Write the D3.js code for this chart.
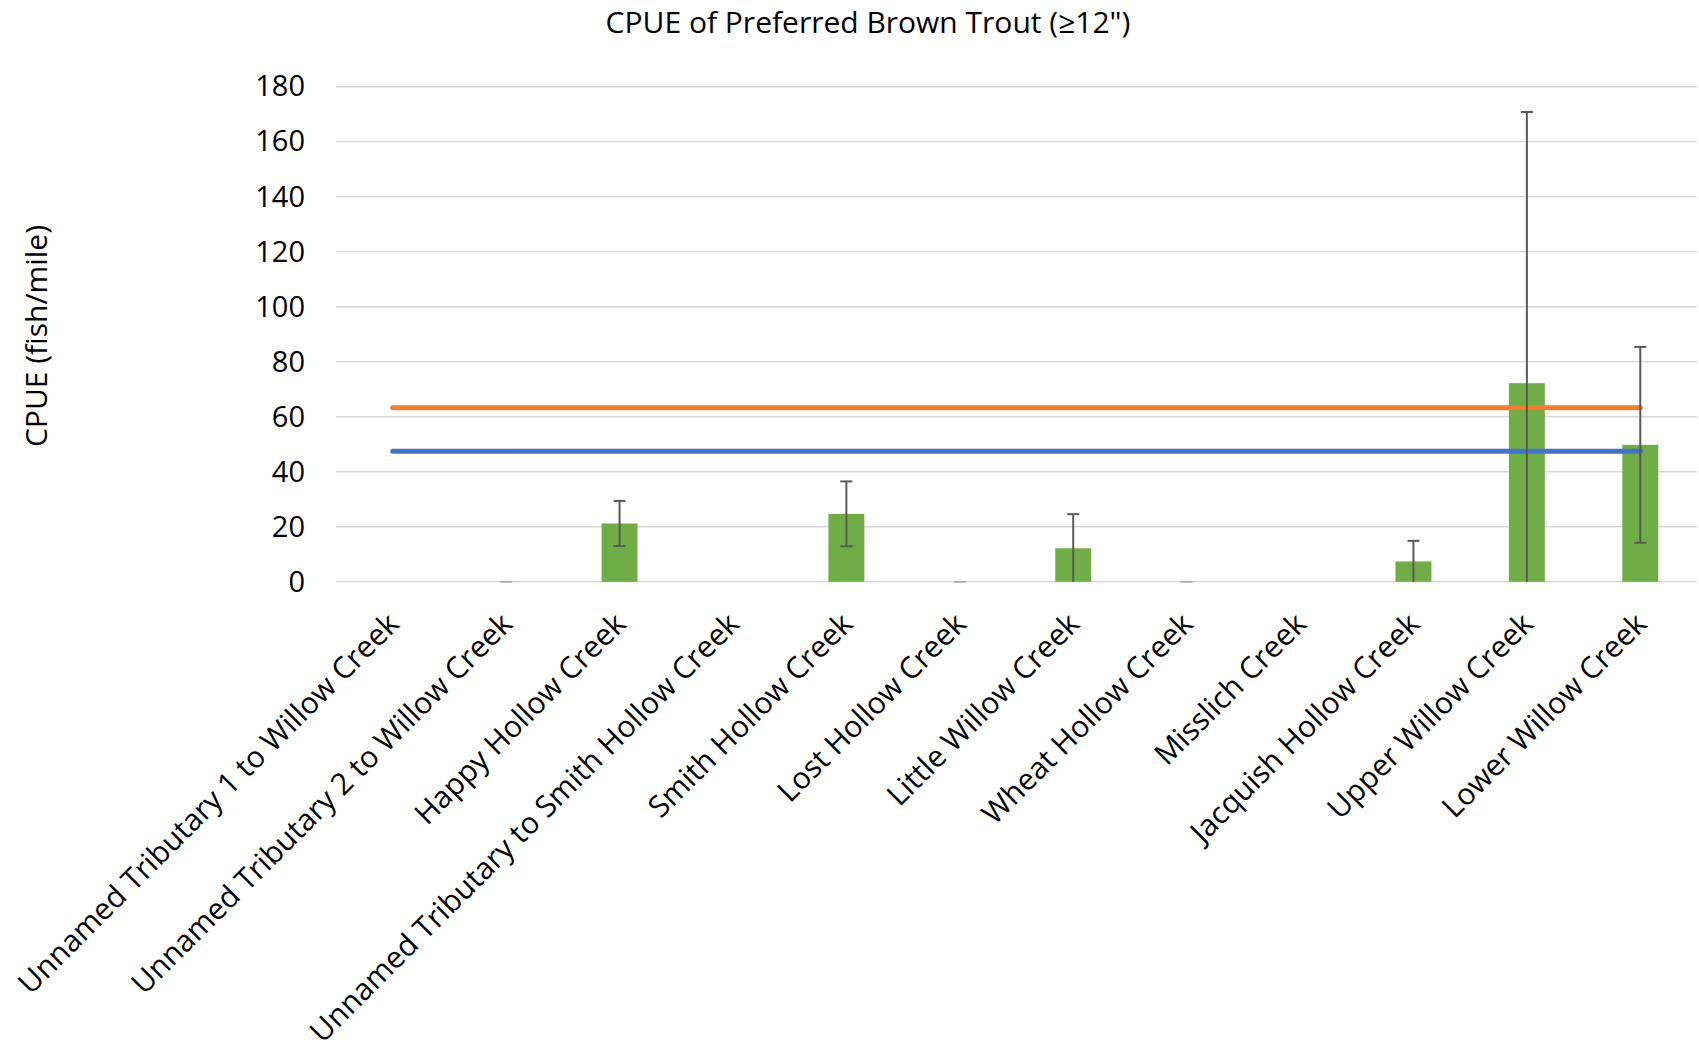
<!DOCTYPE html>
<meta charset="UTF-8">
<style>
body { margin: 0; background: #fff; }
svg text { font-family: "Open Sans", "Noto Sans", sans-serif; fill: #000; }
.grid line { stroke: #d9d9d9; stroke-width: 1.5px; }
.err { stroke: #595959; stroke-width: 2px; fill: none; }
</style>
<body>
<script src="https://d3js.org/d3.v7.min.js"></script>
<script>
// Streams sampled (x axis)
var streams = [
  "Unnamed Tributary 1 to Willow Creek",
  "Unnamed Tributary 2 to Willow Creek",
  "Happy Hollow Creek",
  "Unnamed Tributary to Smith Hollow Creek",
  "Smith Hollow Creek",
  "Lost Hollow Creek",
  "Little Willow Creek",
  "Wheat Hollow Creek",
  "Misslich Creek",
  "Jacquish Hollow Creek",
  "Upper Willow Creek",
  "Lower Willow Creek"
];
// CPUE of preferred brown trout (fish/mile), null = no bar
var cpue = [null, 0, 21.2, null, 24.7, 0, 12.2, 0, null, 7.4, 72.2, 49.8];
// error bar half-widths
var cpueErr = [null, 0, 8.2, null, 11.8, 0, 12.4, 0, null, 7.5, 98.6, 35.6];
// the two flat reference lines
var refOrange = [63.3, 63.3, 63.3, 63.3, 63.3, 63.3, 63.3, 63.3, 63.3, 63.3, 63.3, 63.3];
var refBlue = [47.5, 47.5, 47.5, 47.5, 47.5, 47.5, 47.5, 47.5, 47.5, 47.5, 47.5, 47.5];
var yTicks = [0, 20, 40, 60, 80, 100, 120, 140, 160, 180];

var W = 1699, H = 1057;
var plotL = 336, plotR = 1697, plotT = 86.7, plotB = 581.8;

var svg = d3.select("body").append("svg")
    .attr("width", W)
    .attr("height", H);

var x = d3.scaleBand().domain(streams).range([plotL, plotR]).padding(0);
var y = d3.scaleLinear().domain([0, 180]).range([plotB, plotT]);
var barW = x.bandwidth() * 0.317;
var cx = function(i) { return x(streams[i]) + x.bandwidth() / 2; };

// title
svg.append("text")
    .attr("x", 868).attr("y", 33)
    .attr("text-anchor", "middle")
    .style("font-size", "30px")
    .text("CPUE of Preferred Brown Trout (\u226512\")");

// gridlines
svg.append("g").attr("class", "grid")
  .selectAll("line").data(yTicks).enter().append("line")
    .attr("x1", plotL).attr("x2", plotR)
    .attr("y1", function(d) { return y(d); })
    .attr("y2", function(d) { return y(d); });

// y axis (labels only)
var yAxis = svg.append("g")
    .attr("transform", "translate(" + plotL + ",0)")
    .call(d3.axisLeft(y).tickValues(yTicks).tickSize(0).tickPadding(31));
yAxis.select(".domain").remove();
yAxis.selectAll("text")
    .style("font-size", "29px")
    .style("font-family", "\"Open Sans\", sans-serif")
    .attr("fill", "#000");

svg.append("text")
    .attr("transform", "translate(47,336) rotate(-90)")
    .attr("text-anchor", "middle")
    .style("font-size", "30px")
    .text("CPUE (fish/mile)");

// bars
svg.append("g").selectAll("rect")
  .data(cpue.map(function(v, i) { return {v: v, i: i}; }).filter(function(d) { return d.v > 0; }))
  .enter().append("rect")
    .attr("x", function(d) { return cx(d.i) - barW / 2; })
    .attr("width", barW)
    .attr("y", function(d) { return y(d.v); })
    .attr("height", function(d) { return y(0) - y(d.v); })
    .attr("fill", "#70ad47");

// reference lines
var line = d3.line()
    .x(function(d, i) { return cx(i); })
    .y(function(d) { return y(d); });
svg.append("path").datum(refOrange)
    .attr("d", line)
    .attr("fill", "none").attr("stroke", "#ed7d31")
    .attr("stroke-width", 5).attr("stroke-linecap", "round");
svg.append("path").datum(refBlue)
    .attr("d", line)
    .attr("fill", "none").attr("stroke", "#4472c4")
    .attr("stroke-width", 5).attr("stroke-linecap", "round");

// error bars (clipped at 0, no cap where clipped)
var capW = 12;
var eg = svg.append("g").attr("class", "err");
cpue.forEach(function(v, i) {
  if (v === null) return;
  var e = cpueErr[i];
  var hi = v + e, lo = Math.max(0, v - e);
  var xc = cx(i);
  if (e === 0) {
    // zero value: only a faint cap sitting on the baseline
    eg.append("line").attr("x1", xc - capW / 2).attr("x2", xc + capW / 2)
      .attr("y1", y(0)).attr("y2", y(0)).style("stroke", "#b0b0b0");
    return;
  }
  eg.append("line").attr("x1", xc).attr("x2", xc).attr("y1", y(hi)).attr("y2", y(lo));
  eg.append("line").attr("x1", xc - capW / 2).attr("x2", xc + capW / 2).attr("y1", y(hi)).attr("y2", y(hi));
  if (v - e >= 0)
    eg.append("line").attr("x1", xc - capW / 2).attr("x2", xc + capW / 2).attr("y1", y(lo)).attr("y2", y(lo));
});

// category labels rotated -45
svg.append("g").selectAll("text")
  .data(streams).enter().append("text")
    .attr("transform", function(d, i) {
      return "translate(" + (cx(i) + 8) + "," + (plotB + 44) + ") rotate(-45)";
    })
    .attr("text-anchor", "end")
    .style("font-size", "30px")
    .text(function(d) { return d; });
</script>
</body>
